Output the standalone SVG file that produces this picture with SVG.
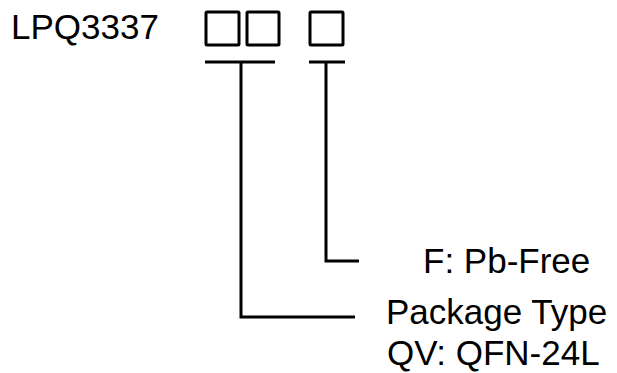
<svg xmlns="http://www.w3.org/2000/svg" width="617" height="373" viewBox="0 0 617 373">
<style>
.t{font-family:"Liberation Sans",Arial,sans-serif;font-size:35px;fill:#000}
.b{fill:none;stroke:#000;stroke-width:3;stroke-linejoin:round}
.c{fill:none;stroke:#000;stroke-width:3}
</style>
<rect width="617" height="373" fill="#fff"/>
<g id="part">
<text class="t" x="11" y="39">LPQ3337</text>
</g>
<g id="box1"><rect class="b" x="206" y="12" width="33" height="33" rx="1"/></g>
<g id="box2"><rect class="b" x="247" y="12" width="32" height="33" rx="1"/></g>
<g id="box3"><rect class="b" x="310" y="12" width="33" height="33" rx="1"/></g>
<g id="pbfree"><text class="t" x="423" y="273">F: Pb-Free</text></g>
<g id="pkg">
<text class="t" x="386" y="324">Package Type</text>
<text class="t" x="387" y="365">QV: QFN-24L</text>
</g>
<g id="connectors">
<path class="c" d="M205 62H275M241 62V317H355"/>
<path class="c" d="M309 62H345M326 62V261H359"/>
</g>
</svg>
